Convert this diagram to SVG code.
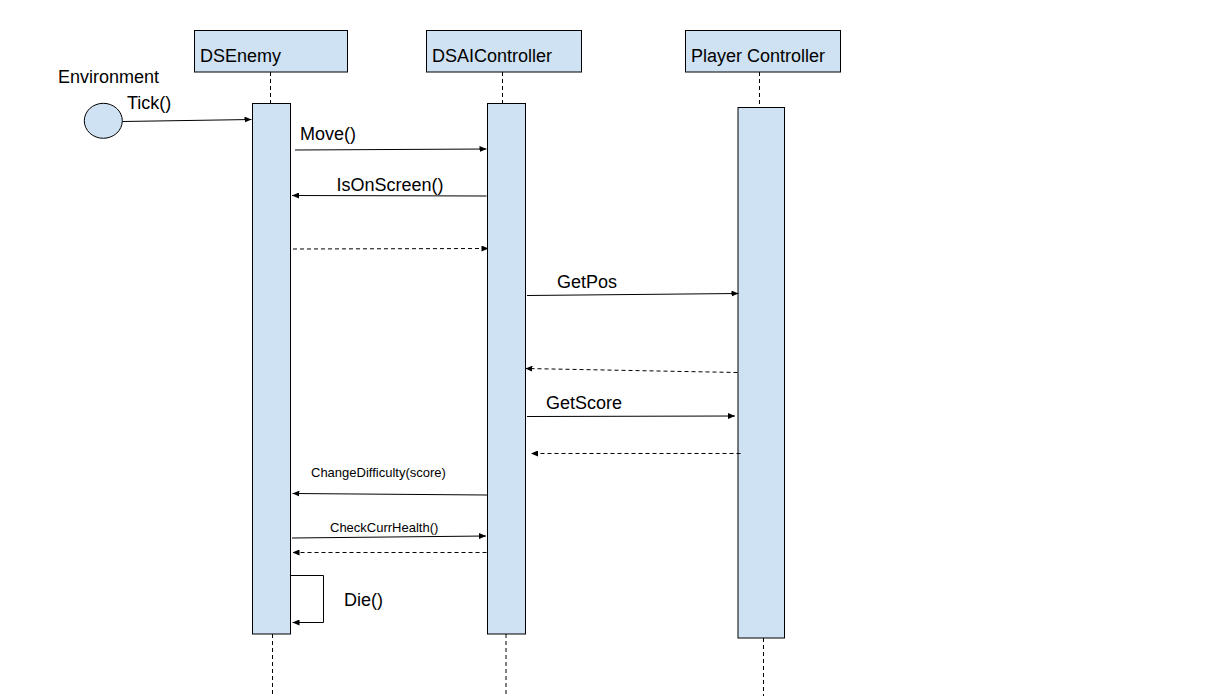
<svg xmlns="http://www.w3.org/2000/svg" width="1216" height="696" viewBox="0 0 1216 696">
<defs>
<style>
.box{fill:#cfe2f3;stroke:#000;stroke-width:1}
.life{stroke:#000;stroke-width:1;stroke-dasharray:4 3;fill:none}
.msg{stroke:#000;stroke-width:1;fill:none;marker-end:url(#ah)}
.ret{stroke:#000;stroke-width:1;fill:none;stroke-dasharray:4 3;marker-end:url(#ah)}
.t18{font-family:"Liberation Sans",Arial,sans-serif;font-size:18px;fill:#000}
.t13{font-family:"Liberation Sans",Arial,sans-serif;font-size:13px;fill:#000}
</style>
<marker id="ah" markerUnits="userSpaceOnUse" markerWidth="7" markerHeight="6" refX="7" refY="3" orient="auto">
<path d="M0,0 L7,3 L0,6 z" fill="#000"/>
</marker>
</defs>
<rect width="1216" height="696" fill="#fff"/>

<g id="lifelines">
<line class="life" x1="270.5" y1="72" x2="270.5" y2="103"/>
<line class="life" x1="272.5" y1="634" x2="272.5" y2="696"/>
<line class="life" x1="502.5" y1="72" x2="502.5" y2="103"/>
<line class="life" x1="506" y1="634" x2="506" y2="696"/>
<line class="life" x1="759.5" y1="72" x2="759.5" y2="107"/>
<line class="life" x1="763.5" y1="638" x2="763.5" y2="696"/>
</g>

<g id="DSEnemy">
<rect class="box" x="194.5" y="30.5" width="153" height="41.5"/>
<text class="t18" x="200" y="62">DSEnemy</text>
<rect class="box" x="252.5" y="103.5" width="38" height="530.5"/>
</g>

<g id="DSAIController">
<rect class="box" x="426.5" y="30.5" width="155" height="41.5"/>
<text class="t18" x="432" y="62">DSAIController</text>
<rect class="box" x="487.5" y="103.5" width="38" height="530.5"/>
</g>

<g id="PlayerController">
<rect class="box" x="685.5" y="30.5" width="155" height="41.5"/>
<text class="t18" x="691" y="62">Player Controller</text>
<rect class="box" x="738" y="107.5" width="46.5" height="530.5"/>
</g>

<g id="Environment">
<ellipse class="box" cx="103.3" cy="120.8" rx="19" ry="17.5"/>
<text class="t18" x="58" y="83">Environment</text>
</g>

<g id="connectors">
<line class="msg" x1="122.5" y1="121.5" x2="251.5" y2="119.5"/>
<text class="t18" x="127" y="109">Tick()</text>

<line class="msg" x1="295" y1="150" x2="486.5" y2="149"/>
<text class="t18" x="300" y="140">Move()</text>

<line class="msg" x1="486.5" y1="196" x2="292" y2="195.5"/>
<text class="t18" x="336.5" y="190.5">IsOnScreen()</text>

<line class="ret" x1="293" y1="249" x2="488.5" y2="248.5"/>

<line class="msg" x1="527" y1="295.5" x2="738.5" y2="293.5"/>
<text class="t18" x="557" y="288">GetPos</text>

<line class="ret" x1="737.5" y1="372.5" x2="525.5" y2="368.5"/>

<line class="msg" x1="527" y1="416.5" x2="735" y2="416"/>
<text class="t18" x="546" y="408.5">GetScore</text>

<line class="ret" x1="740.5" y1="453.5" x2="531" y2="453.5"/>

<line class="msg" x1="487" y1="495" x2="292.5" y2="493.5"/>
<text class="t13" x="311" y="477">ChangeDifficulty(score)</text>

<line class="msg" x1="292" y1="538" x2="486" y2="536"/>
<text class="t13" x="330" y="532">CheckCurrHealth()</text>

<line class="ret" x1="486.5" y1="552.5" x2="292.5" y2="552.5"/>

<polyline class="msg" points="291,575.5 323.5,575.5 323.5,622.5 292.5,622.5"/>
<text class="t18" x="344" y="605.5">Die()</text>
</g>
</svg>
